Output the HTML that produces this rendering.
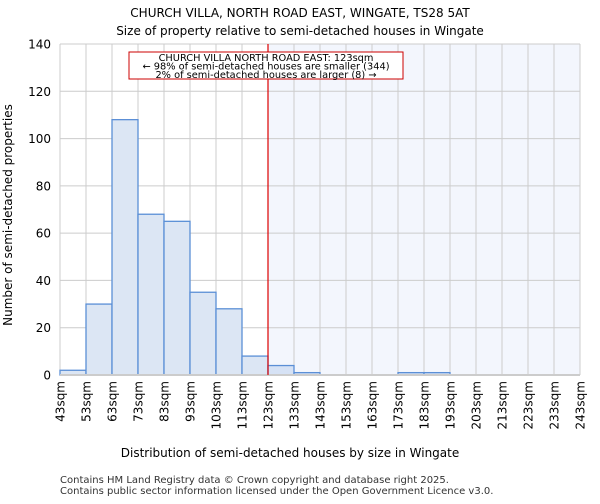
<!DOCTYPE html>
<html><head><meta charset="utf-8"><style>
body{margin:0;background:#fff;font-family:"DejaVu Sans","Liberation Sans",sans-serif;}
</style></head><body>
<svg width="600" height="500" xmlns="http://www.w3.org/2000/svg" font-family="DejaVu Sans, Liberation Sans, sans-serif">
<text x="300" y="17" text-anchor="middle" font-size="12">CHURCH VILLA, NORTH ROAD EAST, WINGATE, TS28 5AT</text>
<text x="300" y="35" text-anchor="middle" font-size="12">Size of property relative to semi-detached houses in Wingate</text>
<g id="plot"></g>
<text x="290" y="457" text-anchor="middle" font-size="12">Distribution of semi-detached houses by size in Wingate</text>
<text transform="translate(12,215) rotate(-90)" text-anchor="middle" font-size="12">Number of semi-detached properties</text>
<text x="60" y="483" font-size="10" fill="#333">Contains HM Land Registry data © Crown copyright and database right 2025.</text>
<text x="60" y="494" font-size="10" fill="#333">Contains public sector information licensed under the Open Government Licence v3.0.</text>
</svg>
<script>
const binStarts=[43,53,63,73,83,93,103,113,123,133,143,153,163,173,183,193,203,213,223,233];
const counts=[2,30,108,68,65,35,28,8,4,1,0,0,0,1,1,0,0,0,0,0];
const xTickLabels=["43sqm","53sqm","63sqm","73sqm","83sqm","93sqm","103sqm","113sqm","123sqm","133sqm","143sqm","153sqm","163sqm","173sqm","183sqm","193sqm","203sqm","213sqm","223sqm","233sqm","243sqm"];
const yTicks=[0,20,40,60,80,100,120,140];
const markerValue=123;
const NS="http://www.w3.org/2000/svg";
const L=60,R=580,T=44,B=375;
const x=v=>L+(v-43)/(243-43)*(R-L);
const y=v=>B-v/140*(B-T);
const g=document.getElementById('plot');
function mk(t,a){const e=document.createElementNS(NS,t);for(const k in a)e.setAttribute(k,a[k]);g.appendChild(e);return e;}
let e=mk('rect',{x:x(markerValue),y:T,width:R-x(markerValue),height:B-T,fill:'#f3f6fd'});


yTicks.forEach(v=>{
 let l=mk('line',{x1:L,x2:R,y1:y(v),y2:y(v),stroke:'#ccc','stroke-width':1});
 
 
 let t=mk('text',{x:L-9,y:y(v)+4.5,'text-anchor':'end','font-size':'12'});
 t.textContent=v;
 
 
});
xTickLabels.forEach((s,i)=>{
 const xv=43+i*10;
 let l=mk('line',{x1:x(xv),x2:x(xv),y1:T,y2:B,stroke:'#ccc','stroke-width':1});
 
 
 let t=mk('text',{transform:`translate(${x(xv)+4.5},${B+6}) rotate(-90)`,'text-anchor':'end','font-size':'12'});
 t.textContent=s;
 
 
});
counts.forEach((c,i)=>{
 const inSel=binStarts[i]<markerValue;
 let r=mk('rect',{x:x(binStarts[i]),y:y(c),width:x(binStarts[i]+10)-x(binStarts[i]),height:B-y(c),fill:inSel?'#dce6f4':'#d6e2f5',stroke:'#5b8fd6','stroke-width':1.3});
 
 
});
e=mk('line',{x1:L,x2:R,y1:B,y2:B,stroke:'#ccc','stroke-width':2});


e=mk('line',{x1:x(markerValue),x2:x(markerValue),y1:T,y2:B,stroke:'#d00','stroke-width':1.2});


e=mk('rect',{x:129,y:52,width:274,height:27,fill:'#fff',stroke:'#c00','stroke-width':1});


["CHURCH VILLA NORTH ROAD EAST: 123sqm","← 98% of semi-detached houses are smaller (344)","2% of semi-detached houses are larger (8) →"].forEach((s,i)=>{
 let t=mk('text',{x:266,y:61+i*8.5,'text-anchor':'middle','font-size':'9.8'});
 t.textContent=s;
 
 
});
</script>
</body></html>
